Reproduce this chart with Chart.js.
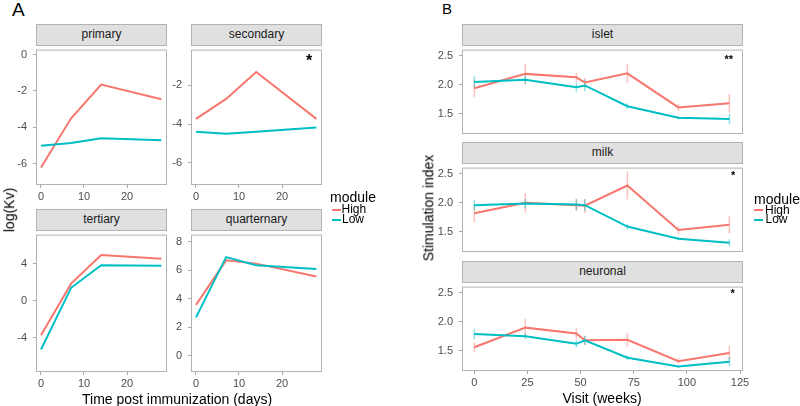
<!DOCTYPE html>
<html>
<head>
<meta charset="utf-8">
<script src="https://cdn.jsdelivr.net/npm/chart.js@4.4.1/dist/chart.umd.min.js"></script>
<style>
  body { margin: 0; width: 800px; height: 406px; position: relative; background: #fff; overflow: hidden;
         font-family: "Liberation Sans", Arial, sans-serif; }
  .strip { position: absolute; background: #e0e0e0; border: 1px solid #b3b3b3; box-sizing: border-box;
           text-align: center; font-size: 12px; color: #1a1a1a; line-height: 19px; }
  .t { position: absolute; white-space: nowrap; color: #000; line-height: 1; }
  .key { position: absolute; width: 9px; height: 2px; }
</style>
</head>
<body>
<script>
// ---- data, panel A (log(Kv) by day) ----
var daysA = [0, 7, 14, 28];
var xTicksA = [0, 10, 20];

var primaryHigh = [-6.2, -3.5, -1.65, -2.45];
var primaryLow = [-5.0, -4.85, -4.6, -4.7];
var secondaryHigh = [-3.73, -2.7, -1.31, -3.73];
var secondaryLow = [-4.4, -4.5, -4.4, -4.18];
var tertiaryHigh = [-3.73, 1.84, 4.94, 4.52];
var tertiaryLow = [-5.26, 1.39, 3.82, 3.76];
var quarternaryHigh = [3.56, 6.69, 6.46, 5.56];
var quarternaryLow = [2.68, 6.92, 6.35, 6.08];

// ---- data, panel B (stimulation index by visit) ----
var weeksB = [0, 24, 48, 52, 72, 96, 120];
var xTicksB = [0, 25, 50, 75, 100, 125];
var yTicksB = [1.5, 2.0, 2.5];

var isletHigh = [1.94, 2.19, 2.13, 2.04, 2.20, 1.61, 1.68];
var isletHighErr = [0.15, 0.18, 0.08, 0.08, 0.17, 0.06, 0.16];
var isletLow = [2.05, 2.09, 1.96, 1.99, 1.63, 1.43, 1.41];
var isletLowErr = [0.10, 0.08, 0.08, 0.10, 0.05, 0.03, 0.09];

var milkHigh = [1.82, 2.0, 1.96, 1.95, 2.30, 1.53, 1.62];
var milkHighErr = [0.16, 0.17, 0.10, 0.12, 0.24, 0.07, 0.15];
var milkLow = [1.96, 1.99, 1.97, 1.96, 1.59, 1.38, 1.31];
var milkLowErr = [0.09, 0.08, 0.10, 0.10, 0.05, 0.03, 0.06];

var neuronalHigh = [1.56, 1.90, 1.80, 1.68, 1.69, 1.32, 1.46];
var neuronalHighErr = [0.08, 0.15, 0.10, 0.08, 0.12, 0.05, 0.13];
var neuronalLow = [1.79, 1.75, 1.62, 1.68, 1.38, 1.23, 1.31];
var neuronalLowErr = [0.09, 0.05, 0.06, 0.08, 0.04, 0.02, 0.08];

var HIGH = '#F8766D', LOW = '#00BFC4';
var HIGH_ERR = 'rgba(248,118,109,0.45)', LOW_ERR = 'rgba(0,191,196,0.45)';

Chart.defaults.font.family = '"Liberation Sans", Arial, sans-serif';

// space round the plot area inside each canvas
var YW = 30, XH = 22, PT = 8, PR = 14;

function pts(xs, ys) {
  return xs.map(function (x, i) { return { x: x, y: ys[i] }; });
}

function text(str, x, y, size, extra) {
  var d = document.createElement('div');
  d.className = 't';
  d.textContent = str;
  d.style.cssText += 'left:' + x + 'px;top:' + y + 'px;font-size:' + size + 'px;' + (extra || '');
  document.body.appendChild(d);
  return d;
}

// rotated axis title, centred on (cx, cy)
function vtext(str, cx, cy, size) {
  var d = text(str, 0, 0, size);
  var w = d.offsetWidth, h = d.offsetHeight;
  d.style.left = (cx - w / 2) + 'px';
  d.style.top = (cy - h / 2) + 'px';
  d.style.transform = 'rotate(-90deg)';
}

function key(x, y, color) {
  var d = document.createElement('div');
  d.className = 'key';
  d.style.cssText += 'left:' + x + 'px;top:' + (y - 1) + 'px;background:' + color + ';';
  document.body.appendChild(d);
}

function makePanel(p) {
  var W = YW + p.w + PR, H = PT + p.h + XH;
  var cv = document.createElement('canvas');
  cv.width = W; cv.height = H;
  cv.style.cssText = 'position:absolute;left:' + (p.l - YW) + 'px;top:' + (p.t - PT) + 'px;width:' + W + 'px;height:' + H + 'px';
  document.body.appendChild(cv);

  var strip = document.createElement('div');
  strip.className = 'strip';
  strip.textContent = p.name;
  strip.style.cssText += 'left:' + p.l + 'px;top:' + (p.t - 21) + 'px;width:' + p.w + 'px;height:22px;';
  document.body.appendChild(strip);

  // error bars, drawn under the lines
  var errPlugin = {
    id: 'errbars',
    beforeDatasetsDraw: function (chart) {
      var xs = chart.scales.x, ys = chart.scales.y, ctx = chart.ctx;
      ctx.save();
      ctx.lineWidth = 1.5;
      (p.errs || []).forEach(function (b) {
        ctx.strokeStyle = b.color;
        p.x.forEach(function (xv, i) {
          var px = xs.getPixelForValue(xv);
          ctx.beginPath();
          ctx.moveTo(px, ys.getPixelForValue(b.y[i] - b.e[i]));
          ctx.lineTo(px, ys.getPixelForValue(b.y[i] + b.e[i]));
          ctx.stroke();
        });
      });
      ctx.restore();
    }
  };
  // panel border
  var frame = {
    id: 'frame',
    afterDatasetsDraw: function (chart) {
      var a = chart.chartArea, ctx = chart.ctx;
      ctx.save();
      ctx.strokeStyle = '#b3b3b3';
      ctx.lineWidth = 1;
      ctx.strokeRect(a.left + 0.5, a.top + 0.5, a.right - a.left - 1, a.bottom - a.top - 1);
      ctx.restore();
    }
  };

  var tickFont = { size: 11 };
  new Chart(cv, {
    type: 'line',
    data: {
      datasets: [
        { label: 'High', data: pts(p.x, p.high), borderColor: HIGH, borderWidth: 2, pointRadius: 0, order: 1 },
        { label: 'Low', data: pts(p.x, p.low), borderColor: LOW, borderWidth: 2, pointRadius: 0, order: 0 }
      ]
    },
    options: {
      responsive: false,
      animation: false,
      events: [],
      layout: { padding: { left: 0, right: PR, top: PT, bottom: 0 } },
      plugins: { legend: { display: false }, tooltip: { enabled: false } },
      scales: {
        x: {
          type: 'linear', min: p.xr[0], max: p.xr[1],
          afterBuildTicks: function (s) { s.ticks = p.xt.map(function (v) { return { value: v }; }); },
          afterFit: function (s) { s.height = XH; },
          grid: { drawOnChartArea: false, drawTicks: !p.noX, color: '#aaaaaa', tickLength: 3 },
          border: { display: false },
          ticks: { display: !p.noX, color: '#4d4d4d', font: tickFont, padding: 2, maxRotation: 0 }
        },
        y: {
          type: 'linear', min: p.yr[0], max: p.yr[1],
          afterBuildTicks: function (s) { s.ticks = p.yt.map(function (v) { return { value: v }; }); },
          afterFit: function (s) { s.width = YW; },
          grid: { drawOnChartArea: false, color: '#aaaaaa', tickLength: 3 },
          border: { display: false },
          ticks: {
            color: '#4d4d4d', font: tickFont, padding: 6,
            callback: function (v) { return p.fmt ? v.toFixed(1) : String(v); }
          }
        }
      }
    },
    plugins: [errPlugin, frame]
  });
}

// ---- panel A ----
makePanel({ name: 'primary', l: 36, t: 45, w: 131, h: 140, x: daysA, xr: [-1.16, 29.3], xt: xTicksA,
  yr: [-7.16, 0.27], yt: [-6, -4, -2, 0], high: primaryHigh, low: primaryLow });
makePanel({ name: 'secondary', l: 191, t: 45, w: 131, h: 140, x: daysA, xr: [-1.16, 29.3], xt: xTicksA,
  yr: [-7.15, -0.15], yt: [-6, -4, -2], high: secondaryHigh, low: secondaryLow });
makePanel({ name: 'tertiary', l: 36, t: 230, w: 131, h: 142, x: daysA, xr: [-1.16, 29.3], xt: xTicksA,
  yr: [-7.69, 7.13], yt: [-4, 0, 4], high: tertiaryHigh, low: tertiaryLow });
makePanel({ name: 'quarternary', l: 191, t: 230, w: 131, h: 142, x: daysA, xr: [-1.16, 29.3], xt: xTicksA,
  yr: [-1.16, 8.5], yt: [0, 2, 4, 6, 8], high: quarternaryHigh, low: quarternaryLow });

// ---- panel B (x ticks only on the bottom facet) ----
var panelsB = [
  { name: 'islet', t: 45, noX: true, high: isletHigh, he: isletHighErr, low: isletLow, le: isletLowErr },
  { name: 'milk', t: 163, noX: true, high: milkHigh, he: milkHighErr, low: milkLow, le: milkLowErr },
  { name: 'neuronal', t: 282, noX: false, high: neuronalHigh, he: neuronalHighErr, low: neuronalLow, le: neuronalLowErr }
];
panelsB.forEach(function (b) {
  makePanel({ name: b.name, l: 462, t: b.t, w: 281, h: 89, x: weeksB, xr: [-5.8, 126.4], xt: xTicksB,
    yr: [1.15, 2.61], yt: yTicksB, fmt: true, noX: b.noX, high: b.high, low: b.low,
    errs: [{ y: b.high, e: b.he, color: HIGH_ERR }, { y: b.low, e: b.le, color: LOW_ERR }] });
});

// ---- labels, titles, legends ----
text('A', 12, -0.5, 19);
text('B', 442, 1, 15);

vtext('log(Kv)', 9, 210, 14);
text('Time post immunization (days)', 82, 391.5, 14);
vtext('Stimulation index', 428, 208, 14);
var vw = text('Visit (weeks)', 0, 391, 14);
vw.style.left = (602 - vw.offsetWidth / 2) + 'px';

// significance marks
text('*', 306, 53, 16, 'font-weight:bold;');
text('**', 724.5, 54, 11, 'font-weight:bold;');
text('*', 731, 169.5, 11, 'font-weight:bold;');
text('*', 730.5, 288, 11, 'font-weight:bold;');

// legend A
text('module', 330, 190, 14);
key(331.5, 209.5, HIGH);
key(331.5, 220, LOW);
text('High', 341.5, 202.5, 12);
text('Low', 342, 212.5, 12);

// legend B
text('module', 754, 191.5, 14);
key(754, 210, HIGH);
key(754, 219.5, LOW);
text('High', 765, 204, 12);
text('Low', 765.5, 213, 12);
</script>
</body>
</html>
